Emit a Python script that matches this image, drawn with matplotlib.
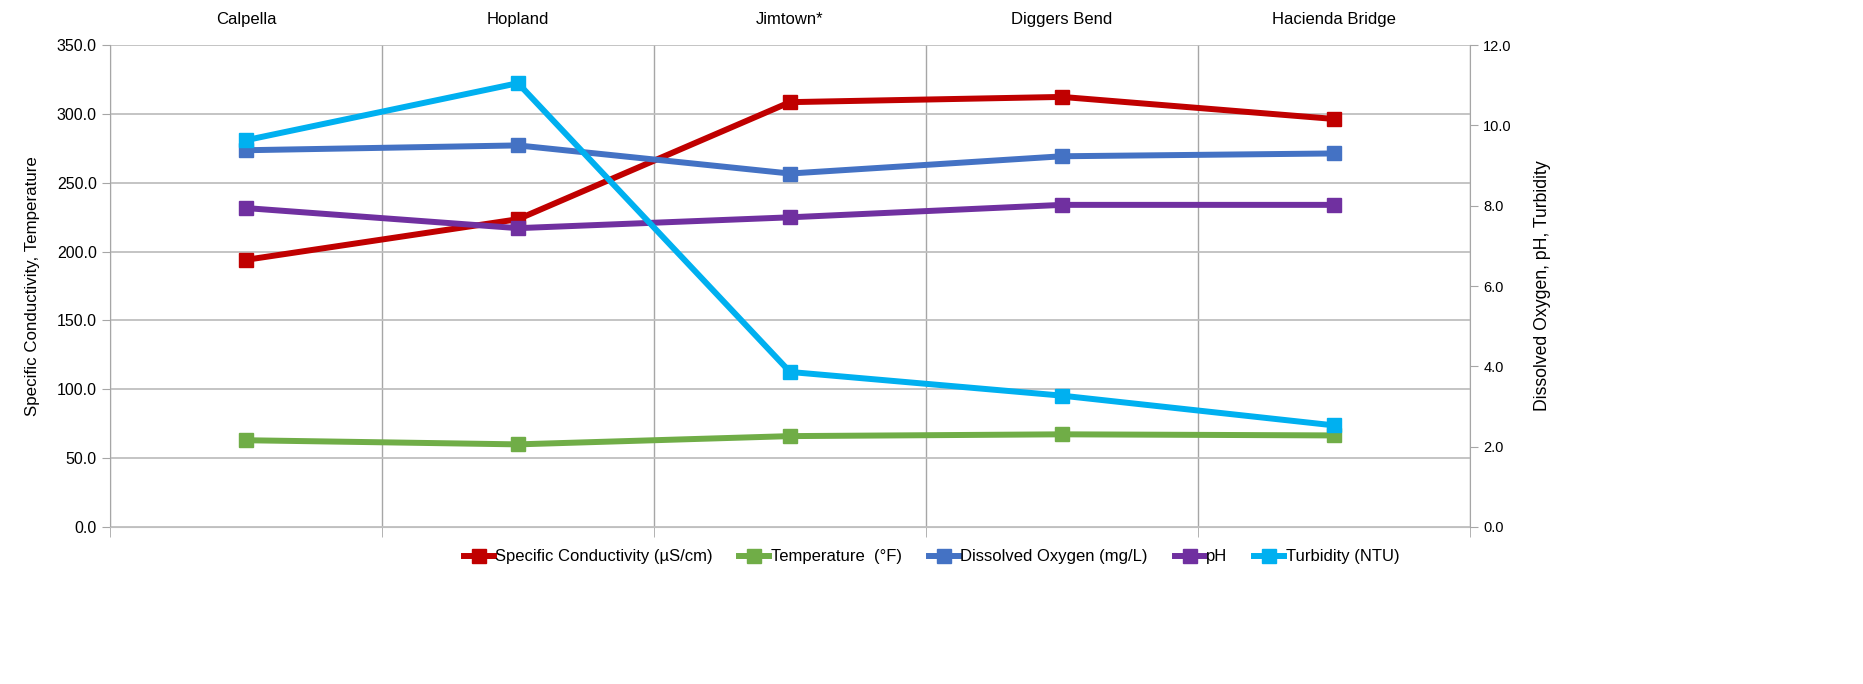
import matplotlib
matplotlib.use("Agg")
import matplotlib.pyplot as plt
from matplotlib.ticker import FormatStrFormatter

plt.rcParams['font.family'] = ['Liberation Sans', 'DejaVu Sans']

sites = ["Calpella", "Hopland", "Jimtown*", "Diggers Bend", "Hacienda Bridge"]
conductivity = [194.0, 223.5, 308.5, 312.3, 296.3]
temperature = [63.0, 60.0, 66.0, 67.3, 66.5]
dissolved_oxygen = [9.38, 9.50, 8.80, 9.23, 9.30]
ph = [7.94, 7.44, 7.71, 8.02, 8.02]
turbidity = [9.63, 11.05, 3.86, 3.27, 2.53]

fig = plt.figure(figsize=(18.63, 6.84), dpi=100)
ax = fig.add_axes([110 / 1863, 1 - 527 / 684, 1360 / 1863, 482 / 684])
ax2 = ax.twinx()

x = list(range(len(sites)))
lw = 4.3
ms = 10
lines = []
lines += ax.plot(x, conductivity, color='#C00000', lw=lw, marker='s', ms=ms,
                 label='Specific Conductivity (µS/cm)')
lines += ax.plot(x, temperature, color='#70AD47', lw=lw, marker='s', ms=ms,
                 label='Temperature  (°F)')
lines += ax2.plot(x, dissolved_oxygen, color='#4472C4', lw=lw, marker='s', ms=ms,
                  label='Dissolved Oxygen (mg/L)')
lines += ax2.plot(x, ph, color='#7030A0', lw=lw, marker='s', ms=ms, label='pH')
lines += ax2.plot(x, turbidity, color='#00B0F0', lw=lw, marker='s', ms=ms,
                  label='Turbidity (NTU)')

ax.set_xlim(-0.5, len(sites) - 0.5)
ax.set_ylim(0, 350)
ax2.set_ylim(0, 12)
ax.set_yticks(range(0, 351, 50))
ax2.set_yticks(range(0, 13, 2))
ax.yaxis.set_major_formatter(FormatStrFormatter('%.1f'))
ax2.yaxis.set_major_formatter(FormatStrFormatter('%.1f'))

# category labels on top, gridlines between categories
ax.set_xticks(x)
ax.set_xticklabels(sites, fontsize=12)
ax.xaxis.tick_top()
ax.tick_params(axis='x', length=0, pad=13)
ax.set_xticks([i + 0.5 for i in range(-1, len(sites))], minor=True)
ax.tick_params(axis='x', which='minor', bottom=True, top=False, length=7, color='#A6A6A6')
ax.grid(True, which='minor', axis='x', color='#A6A6A6', lw=1)
ax.grid(True, which='major', axis='y', color='#BFBFBF', lw=1.3)
ax.set_axisbelow(True)

ax.tick_params(axis='y', labelsize=11.5, length=6, color='#A6A6A6')
ax2.tick_params(axis='y', labelsize=10.5, length=6, color='#A6A6A6')
for a in (ax, ax2):
    for s in a.spines.values():
        s.set_visible(False)
ax.spines['left'].set_visible(True)
ax.spines['left'].set_color('#A6A6A6')
ax.spines['bottom'].set_visible(True)
ax.spines['bottom'].set_color('#BFBFBF')
ax2.spines['right'].set_visible(True)
ax2.spines['right'].set_color('#A6A6A6')

ax.set_ylabel('Specific Conductivity, Temperature', fontsize=12.2, labelpad=12)
ax2.set_ylabel('Dissolved Oxygen, pH, Turbidity', fontsize=12.7, labelpad=16)

fig.legend(lines, [l.get_label() for l in lines], loc='center', ncol=5,
           bbox_to_anchor=(0.5, 1 - 557 / 684), frameon=False, fontsize=12,
           handlelength=1.8, handletextpad=0.1, columnspacing=1.6)

plt.savefig("out.png", dpi=100)
